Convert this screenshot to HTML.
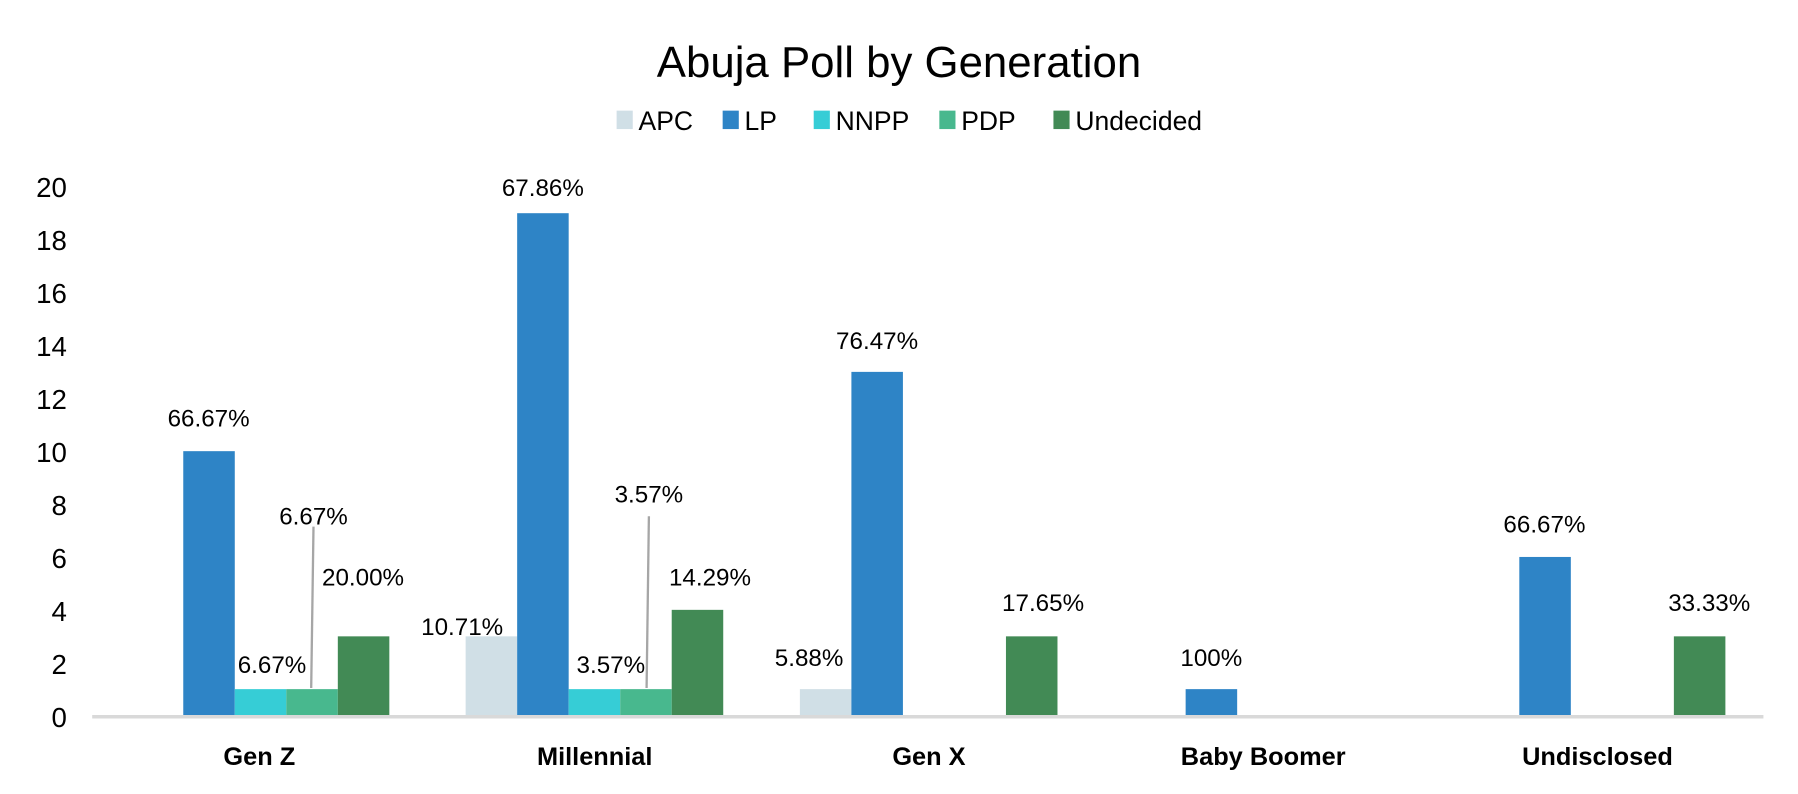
<!DOCTYPE html>
<html><head><meta charset="utf-8"><style>
html,body{margin:0;padding:0;background:#fff;}
svg{display:block;}
text{font-family:"Liberation Sans",sans-serif;fill:#000;}
</style></head><body>
<svg width="1798" height="794" viewBox="0 0 1560 689" preserveAspectRatio="none">
<text x="780" y="67" font-size="38" text-anchor="middle">Abuja Poll by Generation</text>
<g font-size="23">
<rect x="535" y="96" width="14" height="16" fill="#d0dfe6"/><text x="554" y="113">APC</text>
<rect x="627" y="96" width="14" height="16" fill="#2e84c6"/><text x="646" y="113">LP</text>
<rect x="706" y="96" width="14" height="16" fill="#36cdd6"/><text x="725" y="113">NNPP</text>
<rect x="815" y="96" width="14" height="16" fill="#48b88e"/><text x="834" y="113">PDP</text>
<rect x="914" y="96" width="14" height="16" fill="#428a55"/><text x="933" y="113">Undecided</text>
</g>
<g font-size="24" text-anchor="end">
<text x="58" y="171">20</text><text x="58" y="217">18</text><text x="58" y="263">16</text>
<text x="58" y="309">14</text><text x="58" y="355">12</text><text x="58" y="401">10</text>
<text x="58" y="447">8</text><text x="58" y="493">6</text><text x="58" y="539">4</text>
<text x="58" y="585">2</text><text x="58" y="631">0</text>
</g>
<g>
<rect x="159" y="391.5" width="44.7" height="229.5" fill="#2e84c6"/>
<rect x="203.7" y="598" width="44.7" height="23" fill="#36cdd6"/>
<rect x="248.4" y="598" width="44.7" height="23" fill="#48b88e"/>
<rect x="293.1" y="552.2" width="44.7" height="68.8" fill="#428a55"/>

<rect x="404" y="552.2" width="44.7" height="68.8" fill="#d0dfe6"/>
<rect x="448.7" y="185" width="44.7" height="436" fill="#2e84c6"/>
<rect x="493.4" y="598" width="44.7" height="23" fill="#36cdd6"/>
<rect x="538.1" y="598" width="44.7" height="23" fill="#48b88e"/>
<rect x="582.8" y="529.2" width="44.7" height="91.8" fill="#428a55"/>

<rect x="694" y="598" width="44.7" height="23" fill="#d0dfe6"/>
<rect x="738.7" y="322.7" width="44.7" height="298.3" fill="#2e84c6"/>
<rect x="872.8" y="552.2" width="44.7" height="68.8" fill="#428a55"/>

<rect x="1028.7" y="598" width="44.7" height="23" fill="#2e84c6"/>

<rect x="1318.2" y="483.3" width="44.7" height="137.7" fill="#2e84c6"/>
<rect x="1452.3" y="552.2" width="44.7" height="68.8" fill="#428a55"/>
</g>
<line x1="80" y1="622" x2="1530" y2="622" stroke="#d9d9d9" stroke-width="3"/>
<line x1="272" y1="457" x2="270" y2="597" stroke="#a6a6a6" stroke-width="2"/>
<line x1="563" y1="448" x2="561" y2="597" stroke="#a6a6a6" stroke-width="2"/>
<g font-size="21" text-anchor="middle">
<text x="181" y="370">66.67%</text>
<text x="236" y="584">6.67%</text>
<text x="272" y="455">6.67%</text>
<text x="315" y="508">20.00%</text>
<text x="401" y="551">10.71%</text>
<text x="471" y="170">67.86%</text>
<text x="530" y="584">3.57%</text>
<text x="563" y="436">3.57%</text>
<text x="616" y="508">14.29%</text>
<text x="702" y="578">5.88%</text>
<text x="761" y="303">76.47%</text>
<text x="905" y="530">17.65%</text>
<text x="1051" y="578">100%</text>
<text x="1340" y="462">66.67%</text>
<text x="1483" y="530">33.33%</text>
</g>
<g font-size="22" font-weight="bold" text-anchor="middle">
<text x="225" y="664">Gen Z</text>
<text x="516" y="664">Millennial</text>
<text x="806" y="664">Gen X</text>
<text x="1096" y="664">Baby Boomer</text>
<text x="1386" y="664">Undisclosed</text>
</g>
</svg>
</body></html>
